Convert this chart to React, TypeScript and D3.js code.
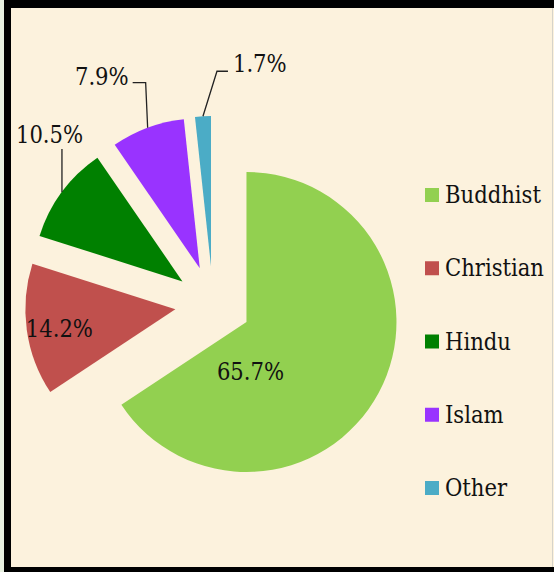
import React from 'react';
import * as d3 from 'd3';

// religion shares (%), clockwise from 12 o'clock
const religions = ['Buddhist', 'Christian', 'Hindu', 'Islam', 'Other'];
const shares = [65.7, 14.2, 10.5, 7.9, 1.7];
const colors = ['#92d050', '#c0504d', '#008000', '#9933ff', '#4bacc6'];

const W = 554;
const H = 572;
const FONT = "'DejaVu Serif Condensed', 'DejaVu Serif', serif";

export default function App() {
  const cx = 213;
  const cy = 304;
  const r = 150;
  const explode = 38;

  const pie = d3.pie<number>().sort(null).value(d => d);
  const arcs = pie(shares);
  const arc = d3.arc<d3.PieArcDatum<number>>().innerRadius(0).outerRadius(r);

  // label placement per slice: inside labels are offset from the slice apex,
  // outside labels hang off a leader starting at the outer mid point of the arc
  const labelCfg = [
    { inside: true, text: [4, 58], anchor: 'middle' },
    { inside: true, text: [-116, 28], anchor: 'middle' },
    { inside: false, elbow: [0, -43], end: [0, -43], text: [-46, -49], anchor: 'start' },
    { inside: false, elbow: [-2, -45], end: [-15, -45], text: [-19, -43], anchor: 'end' },
    { inside: false, elbow: [14, -45], end: [25, -45], text: [30, -44], anchor: 'start' }
  ];

  const legendY = d3.scalePoint<string>().domain(religions).range([195, 488]);

  return (
    <svg width={W} height={H} style={{ position: 'absolute', left: 0, top: 0, display: 'block', fontStretch: 'condensed' }}
      fontFamily={FONT} fontSize={23.5}>
      {/* frame */}
      <rect x={0} y={0} width={W} height={H} fill="#e8f0e0" />
      <rect x={4} y={0} width={W - 4} height={H} fill="#000" />
      <rect x={11} y={8} width={W - 11} height={559} fill="#fcf2dd" />
      <line x1={552.5} y1={8} x2={552.5} y2={567} stroke="#d6d3ca" strokeWidth={1} />

      {/* slices */}
      {arcs.map((a, i) => {
        const mid = (a.startAngle + a.endAngle) / 2;
        const ox = cx + explode * Math.sin(mid);
        const oy = cy - explode * Math.cos(mid);
        const px = ox + r * Math.sin(mid);
        const py = oy - r * Math.cos(mid);
        const cfg: any = labelCfg[i];
        return (
          <g key={religions[i]}>
            <path d={arc(a) || ''} transform={`translate(${ox},${oy})`} fill={colors[i]} />
            {cfg.inside ? (
              <text x={ox + cfg.text[0]} y={oy + cfg.text[1]} textAnchor={cfg.anchor}
                fill="#111">{shares[i]}%</text>
            ) : (
              <g>
                <polyline
                  points={`${px},${py} ${px + cfg.elbow[0]},${py + cfg.elbow[1]} ${px + cfg.end[0]},${py + cfg.end[1]}`}
                  fill="none" stroke="#222" strokeWidth={1.3} />
                <text x={px + cfg.text[0]} y={py + cfg.text[1]} textAnchor={cfg.anchor}
                  fill="#111">{shares[i].toFixed(1)}%</text>
              </g>
            )}
          </g>
        );
      })}

      {/* legend */}
      {religions.map((name, i) => (
        <g key={name} transform={`translate(425,${legendY(name)})`}>
          <rect x={0} y={-7} width={14} height={14} fill={colors[i]} />
          <text x={20} y={8} fill="#111">{name}</text>
        </g>
      ))}
    </svg>
  );
}
